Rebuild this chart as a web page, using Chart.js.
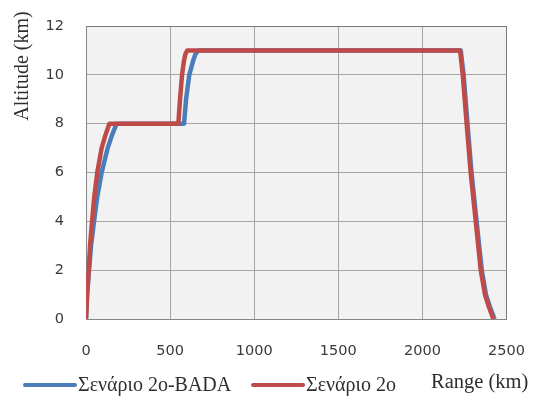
<!DOCTYPE html>
<html>
<head>
<meta charset="utf-8">
<script src="https://cdn.jsdelivr.net/npm/chart.js@4/dist/chart.umd.min.js"></script>
<style>
    body { margin: 0; background: #ffffff; }
</style>
</head>
<body>
<canvas id="chart-profile" width="533" height="408"></canvas>
<script>
// Σενάριο 2ο-BADA : range (km) / altitude (km)
const badaRange = [0, 7, 18, 30, 48, 67, 93, 129, 153, 182, 583, 595, 614, 638, 651, 668, 2228, 2245, 2268, 2292, 2322, 2353, 2378, 2401, 2429];
const badaAlt   = [0, 1, 2, 3, 4, 5, 6, 7, 7.5, 8, 8, 9, 10, 10.6, 10.85, 11, 11, 10, 8, 6, 4, 2, 1, 0.5, 0];

// Σενάριο 2ο
const sc2Range = [0, 6, 16, 24, 36, 49, 67, 93, 114, 139, 549, 559, 571, 583, 591, 602, 2224, 2240, 2263, 2287, 2317, 2347, 2372, 2395, 2422];
const sc2Alt   = [0, 1, 2, 3, 4, 5, 6, 7, 7.5, 8, 8, 9, 10, 10.6, 10.85, 11, 11, 10, 8, 6, 4, 2, 1, 0.5, 0];

const rangeTicks = [0, 500, 1000, 1500, 2000, 2500];
const altTicks = [0, 2, 4, 6, 8, 10, 12];

const seriesNames = ["Σενάριο 2ο-BADA", "Σενάριο 2ο"];
const seriesColors = ["#4a7ebb", "#be4b48"];

const serifFont = '"Liberation Serif", "Times New Roman", serif';
const tickFont = { family: '"DejaVu Sans", Verdana, sans-serif', size: 14.5 };

function toPoints(xs, ys) {
    return xs.map((x, i) => ({ x: x, y: ys[i] }));
}

// plot background, axis titles and the legend row under the chart
const profileDecor = {
    id: "profileDecor",
    beforeDraw(chart) {
        const { ctx, chartArea } = chart;
        ctx.save();
        ctx.fillStyle = "#f2f2f2";
        ctx.fillRect(chartArea.left, chartArea.top, chartArea.width, chartArea.height);
        ctx.restore();
    },
    afterDraw(chart) {
        const ctx = chart.ctx;
        ctx.save();
        ctx.fillStyle = "#2e2e2e";
        ctx.textBaseline = "middle";

        // y title
        ctx.font = "20px " + serifFont;
        ctx.save();
        ctx.translate(23, 66);
        ctx.rotate(-Math.PI / 2);
        ctx.textAlign = "center";
        ctx.fillText("Altitude (km)", 0, 0);
        ctx.restore();

        // x title sits on the legend row
        ctx.textAlign = "left";
        ctx.font = "20.5px " + serifFont;
        ctx.fillText("Range (km)", 431, 383);

        // legend
        const legendX = [25, 253];
        ctx.font = "20px " + serifFont;
        chart.data.datasets.forEach((ds, i) => {
            const y = 385;
            ctx.strokeStyle = ds.borderColor;
            ctx.lineWidth = 4;
            ctx.lineCap = "round";
            ctx.beginPath();
            ctx.moveTo(legendX[i], y);
            ctx.lineTo(legendX[i] + 50, y);
            ctx.stroke();
            ctx.fillText(ds.label, legendX[i] + 53, y + 1);
        });
        ctx.restore();
    }
};

const chartProfile = document.getElementById("chart-profile");

new Chart(chartProfile, {
    type: "scatter",
    data: {
        datasets: [
            {
                label: seriesNames[0],
                data: toPoints(badaRange, badaAlt),
                borderColor: seriesColors[0],
                backgroundColor: seriesColors[0],
                order: 1,
            },
            {
                label: seriesNames[1],
                data: toPoints(sc2Range, sc2Alt),
                borderColor: seriesColors[1],
                backgroundColor: seriesColors[1],
                order: 0,
            },
        ],
    },
    options: {
        responsive: false,
        animation: false,
        showLine: true,
        layout: { padding: { top: 26, right: 26.5, left: 0, bottom: 0 } },
        elements: {
            point: { radius: 0, hoverRadius: 0 },
            line: { borderWidth: 4.5, tension: 0, borderJoinStyle: "round", borderCapStyle: "butt" },
        },
        plugins: {
            legend: { display: false },
            tooltip: { enabled: false },
        },
        scales: {
            x: {
                type: "linear",
                min: 0,
                max: 2500,
                afterBuildTicks: (scale) => { scale.ticks = rangeTicks.map(v => ({ value: v })); },
                afterFit: (scale) => {
                    scale.height = 89;
                    scale.paddingLeft = 0;
                    scale.paddingRight = 0;
                },
                ticks: { font: tickFont, color: "#3a3a3a", padding: 24, maxRotation: 0, callback: (v) => String(v) },
                grid: {
                    drawTicks: false,
                    color: (c) => (c.tick && c.tick.value === 2500 ? "#7a7a7a" : "#a6a6a6"),
                },
                border: { color: "#868686" },
            },
            y: {
                type: "linear",
                min: 0,
                max: 12,
                afterBuildTicks: (scale) => { scale.ticks = altTicks.map(v => ({ value: v })); },
                afterFit: (scale) => {
                    scale.width = 86;
                    scale.paddingTop = 0;
                    scale.paddingBottom = 0;
                },
                ticks: { font: tickFont, color: "#3a3a3a", padding: 22, callback: (v) => String(v) },
                grid: {
                    drawTicks: false,
                    color: (c) => (c.tick && c.tick.value === 12 ? "#7a7a7a" : "#a6a6a6"),
                },
                border: { color: "#868686" },
            },
        },
    },
    plugins: [profileDecor],
});
</script>
</body>
</html>
